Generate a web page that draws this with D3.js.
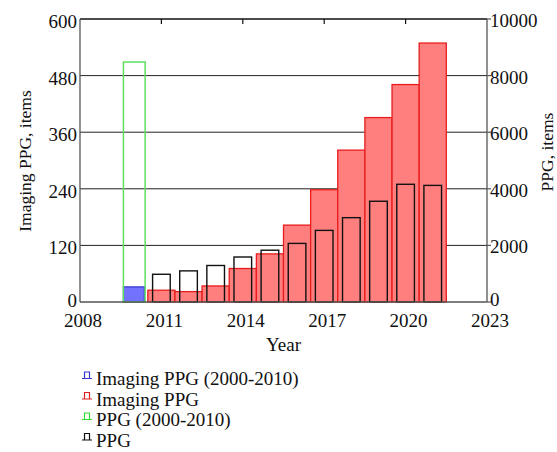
<!DOCTYPE html>
<html>
<head>
<meta charset="utf-8">
<script src="https://cdn.jsdelivr.net/npm/d3@7"></script>
<style>
  html, body { margin: 0; padding: 0; background: #fff; }
  svg text { font-family: "Liberation Serif", "Times New Roman", serif; fill: #111; }
</style>
</head>
<body>
<svg id="chart" width="557" height="452"></svg>
<script>
// Publication counts per year
const years = [2011, 2012, 2013, 2014, 2015, 2016, 2017, 2018, 2019, 2020, 2021];
const imagingPPG = [25, 22, 34, 71, 102, 163, 238, 322, 391, 461, 549];
const ppg = [980, 1100, 1290, 1590, 1830, 2070, 2530, 2980, 3560, 4160, 4120];
// Cumulative totals for 2000-2010, drawn as a single bar at 2010
const earlyYear = 2010;
const imagingPPGEarly = 32;
const ppgEarly = 8480;

const xTicks = [2008, 2011, 2014, 2017, 2020, 2023];
const leftTicks = [0, 120, 240, 360, 480, 600];
const rightTicks = [0, 2000, 4000, 6000, 8000, 10000];
const legendLabels = ["Imaging PPG (2000-2010)", "Imaging PPG", "PPG (2000-2010)", "PPG"];
const legendColors = ["#3a3ad0", "#e02020", "#33dd33", "#111"];

const svg = d3.select("#chart");
const L = 80, R = 487, T = 19, B = 302;

const x = d3.scaleLinear().domain([2008, 2023]).range([L, R]);
const yL = d3.scaleLinear().domain([0, 600]).range([B, T]);
const yR = d3.scaleLinear().domain([0, 10000]).range([B, T]);

// horizontal grid
svg.append("g").selectAll("line").data(leftTicks.slice(1, -1)).join("line")
  .attr("x1", L).attr("x2", R)
  .attr("y1", d => yL(d)).attr("y2", d => yL(d))
  .attr("stroke", "#222").attr("stroke-width", 1);

// Imaging PPG bars (left axis)
svg.append("g").selectAll("rect").data(years.map((y, i) => ({ y, v: imagingPPG[i] }))).join("rect")
  .attr("x", d => x(d.y - 0.5)).attr("width", d => x(d.y + 0.5) - x(d.y - 0.5))
  .attr("y", d => yL(d.v)).attr("height", d => yL(0) - yL(d.v))
  .attr("fill", "#ff7f7f").attr("stroke", "#e81c1c").attr("stroke-width", 1.3);

// Imaging PPG 2000-2010
svg.append("rect")
  .attr("x", x(earlyYear - 0.4)).attr("width", x(earlyYear + 0.37) - x(earlyYear - 0.4))
  .attr("y", yL(imagingPPGEarly)).attr("height", yL(0) - yL(imagingPPGEarly))
  .attr("fill", "#7272ff").attr("stroke", "#3a3ad0").attr("stroke-width", 1.3);

// PPG 2000-2010 (right axis)
svg.append("rect")
  .attr("x", x(earlyYear - 0.4)).attr("width", x(earlyYear + 0.4) - x(earlyYear - 0.4))
  .attr("y", yR(ppgEarly)).attr("height", yR(0) - yR(ppgEarly))
  .attr("fill", "none").attr("stroke", "#5fe05f").attr("stroke-width", 1.5);

// PPG bars (right axis)
svg.append("g").selectAll("rect").data(years.map((y, i) => ({ y, v: ppg[i] }))).join("rect")
  .attr("x", d => x(d.y - 0.325)).attr("width", d => x(d.y + 0.325) - x(d.y - 0.325))
  .attr("y", d => yR(d.v)).attr("height", d => yR(0) - yR(d.v))
  .attr("fill", "none").attr("stroke", "#111").attr("stroke-width", 1.4);

// frame
svg.append("line").attr("x1", L).attr("x2", R).attr("y1", T).attr("y2", T).attr("stroke", "#111").attr("stroke-width", 1.3);
svg.append("line").attr("x1", L).attr("x2", R).attr("y1", B).attr("y2", B).attr("stroke", "#555").attr("stroke-width", 1.3);
svg.append("line").attr("x1", L).attr("x2", L).attr("y1", T).attr("y2", B).attr("stroke", "#555").attr("stroke-width", 1.3);
svg.append("line").attr("x1", R).attr("x2", R).attr("y1", T).attr("y2", B).attr("stroke", "#555").attr("stroke-width", 1.3);

// top inner ticks
svg.append("g").selectAll("line").data(xTicks.slice(1, -1)).join("line")
  .attr("x1", d => x(d)).attr("x2", d => x(d))
  .attr("y1", T).attr("y2", T + 5)
  .attr("stroke", "#111").attr("stroke-width", 1.2);

// right outer ticks
svg.append("g").selectAll("line").data(rightTicks).join("line")
  .attr("x1", R).attr("x2", R + 4)
  .attr("y1", d => yR(d)).attr("y2", d => yR(d))
  .attr("stroke", "#555").attr("stroke-width", 1.2);

const fs = 19;
// left tick labels (the zero sits a little higher to clear the year labels)
svg.append("g").selectAll("text").data(leftTicks).join("text")
  .attr("x", L - 3).attr("y", d => yL(d) + (d === 0 ? 5 : 9))
  .attr("text-anchor", "end").attr("font-size", fs)
  .text(d => d);
// right tick labels
svg.append("g").selectAll("text").data(rightTicks).join("text")
  .attr("x", R + 3).attr("y", d => yR(d) + (d === 0 ? 4 : 8))
  .attr("text-anchor", "start").attr("font-size", fs)
  .text(d => d);
// x tick labels
svg.append("g").selectAll("text").data(xTicks).join("text")
  .attr("x", d => x(d) + 3).attr("y", B + 25)
  .attr("text-anchor", "middle").attr("font-size", fs)
  .text(d => d);

// axis titles
svg.append("text").attr("x", (L + R) / 2).attr("y", B + 49)
  .attr("text-anchor", "middle").attr("font-size", fs).text("Year");
svg.append("text").attr("transform", "translate(31,161) rotate(-90)")
  .attr("text-anchor", "middle").attr("font-size", 17.5).text("Imaging PPG, items");
svg.append("text").attr("transform", "translate(553,152) rotate(-90)")
  .attr("text-anchor", "middle").attr("font-size", 17.5).text("PPG, items");

// legend
const lg = svg.append("g").selectAll("g").data(legendLabels).join("g")
  .attr("transform", (d, i) => `translate(0,${385 + i * 20.5})`);
lg.append("path")
  .attr("d", "M82,-6.5 H92 M84.5,-6.5 V-13 H89.5 V-6.5")
  .attr("fill", "none").attr("stroke", (d, i) => legendColors[i]).attr("stroke-width", 1.2);
lg.append("text").attr("x", 96).attr("y", 0).attr("font-size", fs).text(d => d);
</script>
</body>
</html>
